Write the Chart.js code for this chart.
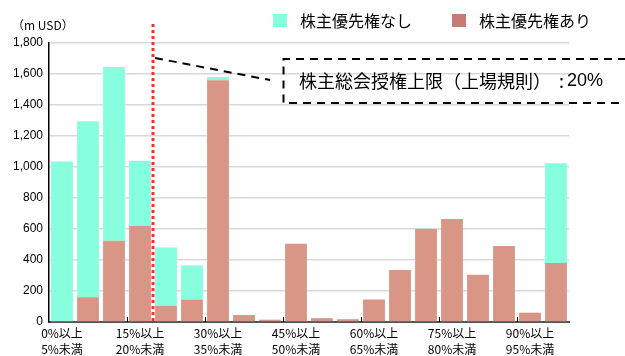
<!DOCTYPE html>
<html>
<head>
<meta charset="utf-8">
<script src="https://cdn.jsdelivr.net/npm/chart.js@4/dist/chart.umd.min.js"></script>
<style>
  html, body { margin: 0; padding: 0; background: #fff; }
</style>
</head>
<body>
<canvas id="chart" width="625" height="356"></canvas>
<script>
const lowerBounds = [0, 5, 10, 15, 20, 25, 30, 35, 40, 45, 50, 55, 60, 65, 70, 75, 80, 85, 90, 95]
const withPreference = [0, 160, 525, 620, 105, 145, 1560, 45, 15, 505, 25, 18, 145, 335, 600, 665, 305, 490, 60, 380]
const withoutPreference = [1035, 1135, 1120, 420, 375, 220, 20, 0, 0, 0, 0, 0, 0, 0, 0, 0, 0, 0, 0, 645]
const yTicks = [0, 200, 400, 600, 800, 1000, 1200, 1400, 1600, 1800]
const capPercent = 20

const TEAL = '#87ffdf'
const SALMON = '#d99686'
const SALMON_KEY = '#c87a78'
const JP = '"Noto Sans CJK JP", "Noto Sans", sans-serif'
const LATIN = '"Liberation Sans", Arial, sans-serif'

const categories = lowerBounds.map(b => [b + '%以上', (b + 5) + '%未満'])

// legend, threshold line, callout and y unit drawn on top of the bars
const decorations = {
  id: 'decorations',
  afterDraw(chart) {
    const { ctx, chartArea, scales: { x } } = chart
    ctx.save()

    // y unit
    ctx.fillStyle = '#000'
    ctx.font = '12px ' + JP
    ctx.textBaseline = 'middle'
    ctx.textAlign = 'left'
    ctx.fillText('（m USD）', 12, 25)

    // inward tick marks on the x axis
    ctx.strokeStyle = '#000'
    ctx.lineWidth = 1
    const step = x.getPixelForValue(1) - x.getPixelForValue(0)
    for (let i = 3; i < categories.length; i += 3) {
      const px = Math.round(x.getPixelForValue(i) - step / 2) + 0.5
      ctx.beginPath()
      ctx.moveTo(px, chartArea.bottom)
      ctx.lineTo(px, chartArea.bottom - 5)
      ctx.stroke()
    }

    // legend
    const keys = [
      { label: chart.data.datasets[1].label, color: TEAL, x: 273 },
      { label: chart.data.datasets[0].label, color: SALMON_KEY, x: 452 }
    ]
    ctx.font = '16px ' + JP
    keys.forEach(k => {
      ctx.fillStyle = k.color
      ctx.fillRect(k.x, 14, 14, 13)
      ctx.fillStyle = '#000'
      ctx.fillText(k.label, k.x + 27, 21)
    })

    // 20% threshold line
    const idx = lowerBounds.indexOf(capPercent)
    const lx = (x.getPixelForValue(idx - 1) + x.getPixelForValue(idx)) / 2
    ctx.strokeStyle = '#e8382a'
    ctx.lineWidth = 3
    ctx.setLineDash([3, 3])
    ctx.beginPath()
    ctx.moveTo(lx, 24)
    ctx.lineTo(lx, chartArea.bottom + 2)
    ctx.stroke()

    // callout box with dashed leader
    ctx.strokeStyle = '#000'
    ctx.lineWidth = 2
    ctx.setLineDash([8, 6])
    ctx.beginPath()
    ctx.moveTo(lx + 2, 58)
    ctx.lineTo(270, 80)
    ctx.stroke()
    ctx.beginPath()
    ctx.moveTo(640, 59)
    ctx.lineTo(283.5, 59)
    ctx.lineTo(283.5, 103)
    ctx.lineTo(640, 103)
    ctx.stroke()
    ctx.setLineDash([])

    ctx.fillStyle = '#000'
    ctx.font = '18px ' + JP
    const txt = '株主総会授権上限（上場規則）'
    let tx = 299
    ctx.fillText(txt, tx, 81)
    tx += ctx.measureText(txt).width + 8
    ctx.fillText(':', tx, 81)
    tx += ctx.measureText(':').width + 3
    ctx.font = '18px ' + LATIN
    ctx.fillText(capPercent + '%', tx, 81)

    ctx.restore()
  }
}

new Chart(document.getElementById('chart'), {
  type: 'bar',
  data: {
    labels: categories,
    datasets: [
      { label: '株主優先権あり', data: withPreference, backgroundColor: SALMON },
      { label: '株主優先権なし', data: withoutPreference, backgroundColor: TEAL }
    ]
  },
  options: {
    responsive: false,
    animation: false,
    devicePixelRatio: 1,
    barPercentage: 0.84,
    categoryPercentage: 1,
    layout: { padding: { top: 43, right: 56, left: 0, bottom: 0 } },
    plugins: { legend: { display: false }, tooltip: { enabled: false } },
    scales: {
      x: {
        stacked: true,
        grid: { display: false },
        border: { color: '#555', width: 2 },
        ticks: {
          autoSkip: false,
          maxRotation: 0,
          padding: -5,
          color: '#000',
          font: { family: JP, size: 12, lineHeight: '16px' },
          callback: (v, i) => i % 3 === 0 ? categories[i] : ''
        },
        afterFit: s => { s.height = 34 }
      },
      y: {
        stacked: true,
        min: 0,
        max: 1800,
        afterBuildTicks: s => { s.ticks = yTicks.map(v => ({ value: v })) },
        grid: { color: '#d9d9d9', lineWidth: 1.5, drawTicks: false },
        border: { color: '#000', width: 1.5 },
        ticks: {
          padding: 6,
          color: '#000',
          font: { family: LATIN, size: 12 },
          callback: v => v.toLocaleString('en-US')
        },
        afterFit: s => { s.width = 49 }
      }
    }
  },
  plugins: [decorations]
})
</script>
</body>
</html>
